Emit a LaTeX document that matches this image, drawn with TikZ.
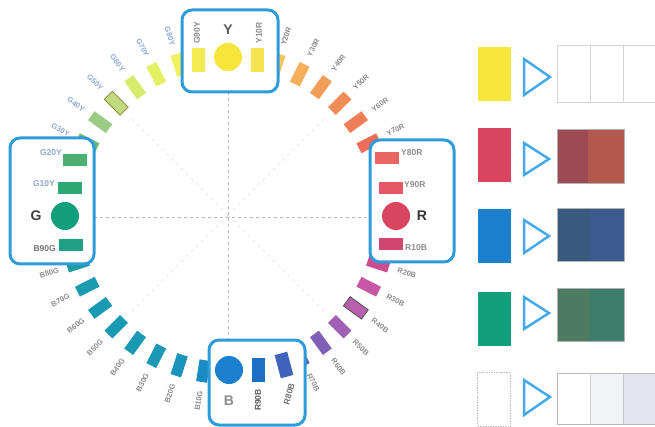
\documentclass[tikz,border=0pt]{standalone}
\usepackage{fontspec}
\setsansfont{Liberation Sans}
% ring colours
\definecolor{cY}{HTML}{F7E63A}
\definecolor{cY10R}{HTML}{F4E24E}
\definecolor{cY20R}{HTML}{F7C45C}
\definecolor{cY30R}{HTML}{F5AE5A}
\definecolor{cY40R}{HTML}{F39E58}
\definecolor{cY50R}{HTML}{F18E58}
\definecolor{cY60R}{HTML}{EF7E58}
\definecolor{cY70R}{HTML}{EC6E58}
\definecolor{cY80R}{HTML}{EA6660}
\definecolor{cY90R}{HTML}{E65866}
\definecolor{cR}{HTML}{D9445E}
\definecolor{cR10B}{HTML}{D04670}
\definecolor{cR20B}{HTML}{CC4C90}
\definecolor{cR30B}{HTML}{C658A6}
\definecolor{cR40B}{HTML}{B860B0}
\definecolor{cR50B}{HTML}{A060B6}
\definecolor{cR60B}{HTML}{8060B6}
\definecolor{cR70B}{HTML}{5C5CB4}
\definecolor{cR80B}{HTML}{4064BC}
\definecolor{cR90B}{HTML}{1E6EC4}
\definecolor{cB}{HTML}{1C80D0}
\definecolor{cB10G}{HTML}{1A8CC4}
\definecolor{cB20G}{HTML}{1A94BA}
\definecolor{cB30G}{HTML}{1A98B4}
\definecolor{cB40G}{HTML}{1A9AB2}
\definecolor{cB50G}{HTML}{1A9AB2}
\definecolor{cB60G}{HTML}{1A9AB0}
\definecolor{cB70G}{HTML}{1C9AAE}
\definecolor{cB80G}{HTML}{1E9CA4}
\definecolor{cB90G}{HTML}{22A086}
\definecolor{cG}{HTML}{12A07C}
\definecolor{cG10Y}{HTML}{2EA872}
\definecolor{cG20Y}{HTML}{4CB070}
\definecolor{cG30Y}{HTML}{6CBA6C}
\definecolor{cG40Y}{HTML}{9CCC84}
\definecolor{cG50Y}{HTML}{C0DA80}
\definecolor{cG60Y}{HTML}{D8EC6C}
\definecolor{cG70Y}{HTML}{E4F064}
\definecolor{cG80Y}{HTML}{EEF060}
\definecolor{cG90Y}{HTML}{F4EA52}
% other colours
\definecolor{boxblue}{HTML}{2E9BDA}
\definecolor{triblue}{HTML}{45AAEA}
\definecolor{labblue}{HTML}{8EA8D0}
\definecolor{labgray}{HTML}{8C8C8C}
\definecolor{cellgray}{HTML}{D4D4D4}
\definecolor{resRa}{HTML}{9E4A55}
\definecolor{resRb}{HTML}{B4584E}
\definecolor{resBa}{HTML}{3B5A80}
\definecolor{resBb}{HTML}{3C5A8E}
\definecolor{resGa}{HTML}{4D7A60}
\definecolor{resGb}{HTML}{3E7D6A}
\definecolor{resWb}{HTML}{F2F3F6}
\definecolor{resWc}{HTML}{E2E5EC}
\begin{document}
\begin{tikzpicture}[x=1pt,y=-1pt,
  ringsw/.style={rectangle, minimum width=22pt, minimum height=11pt, inner sep=0pt},
  ringlab/.style={font=\sffamily\bfseries\fontsize{7.5}{7.5}\selectfont, inner sep=0pt},
  boxlab/.style={font=\sffamily\bfseries\fontsize{8.5}{8.5}\selectfont, inner sep=0pt},
  big/.style={font=\sffamily\bfseries\fontsize{14}{14}\selectfont, inner sep=0pt},
  hsw/.style={rectangle, minimum width=24pt, minimum height=12pt, inner sep=0pt},
  vsw/.style={rectangle, minimum width=13pt, minimum height=24pt, inner sep=0pt},
  hue/.style={circle, minimum size=28pt, inner sep=0pt},
  colorbox/.style={draw=boxblue, line width=3pt, fill=white, rounded corners=10pt},
  spoke/.style={draw=gray!55, dashed, dash pattern=on 3pt off 3pt, line width=0.7pt},
  spokelight/.style={draw=gray!30, dashed, dash pattern=on 3pt off 4pt, line width=0.6pt},
  tri/.style={draw=triblue, line width=2.5pt},
  cellb/.style={draw=cellgray, line width=0.8pt},
  srcsw/.style={rectangle, minimum width=33pt, minimum height=54pt, inner sep=0pt}
]
\useasboundingbox (0,0) rectangle (655,427);

% centre and spokes
\coordinate (ctr) at (228,215);
\foreach \a in {45,135,225,315}
  \draw[spokelight] (ctr) -- ++(\a:140);
\coordinate (hl) at (94,217);
\coordinate (hr) at (370,217);
\coordinate (vt) at (228,92);
\coordinate (vb) at (228,340);
\draw[spoke] (hl) -- (hr);
\draw[spoke] (vt) -- (vb);

% ring of hues (those fully covered by the boxes are left out)
\foreach \a/\n/\lc in {72/Y20R/labgray,63/Y30R/labgray,54/Y40R/labgray,45/Y50R/labgray,36/Y60R/labgray,27/Y70R/labgray,
  -18/R20B/labgray,-27/R30B/labgray,-36/R40B/labgray,-45/R50B/labgray,-54/R60B/labgray,-63/R70B/labgray,
  -99/B10G/labgray,-108/B20G/labgray,-117/B30G/labgray,-126/B40G/labgray,-135/B50G/labgray,-144/B60G/labgray,-153/B70G/labgray,-162/B80G/labgray,
  153/G30Y/labblue,144/G40Y/labblue,135/G50Y/labblue,126/G60Y/labblue,117/G70Y/labblue,108/G80Y/labblue}{
  \pgfmathsetmacro\rr{cos(\a)<0 ? \a+180 : \a}
  \node[ringsw, fill=c\n, rotate=\a] (sw\n) at ({228+158*cos(\a)},{215-158*sin(\a)}) {};
  \node[ringlab, text=\lc, rotate=\rr] (lb\n) at ({228+188*cos(\a)},{215-188*sin(\a)}) {\n};
}
\draw[black!70, line width=0.8pt] (swR40B.north west) -- (swR40B.north east) -- (swR40B.south east) -- (swR40B.south west) -- cycle;
\draw[olive!60!gray, line width=0.8pt] (swG50Y.north west) -- (swG50Y.north east) -- (swG50Y.south east) -- (swG50Y.south west) -- cycle;

% Y box
\draw[colorbox] (182,10) rectangle (278,92);
\node[vsw, fill=cG90Y] (yG90Y) at (198,60) {};
\node[hue, fill=cY] (yY) at (228,57) {};
\node[vsw, fill=cY10R] (yY10R) at (257,60) {};
\node[boxlab, text=labgray, rotate=90] (tyG90Y) at (197,33) {G90Y};
\node[boxlab, text=labgray, rotate=90] (tyY10R) at (259,33) {Y10R};
\node[big, text=black!65] (tyY) at (228,30) {Y};

% R box
\draw[colorbox] (370,140) rectangle (454,262);
\node[hsw, fill=cY80R] (rY80R) at (387,158) {};
\node[hsw, fill=cY90R] (rY90R) at (391,188) {};
\node[hue, fill=cR] (rR) at (396,216) {};
\node[hsw, fill=cR10B] (rR10B) at (391,244) {};
\node[boxlab, text=labgray, anchor=west] (trY80R) at (401,153) {Y80R};
\node[boxlab, text=labgray, anchor=west] (trY90R) at (404,185) {Y90R};
\node[big, text=black!80] (trR) at (422,216) {R};
\node[boxlab, text=labgray, anchor=west] (trR10B) at (405,248) {R10B};

% G box
\draw[colorbox] (10,138) rectangle (94,264);
\node[hsw, fill=cG20Y] (gG20Y) at (75,160) {};
\node[hsw, fill=cG10Y] (gG10Y) at (70,188) {};
\node[hue, fill=cG] (gG) at (65,216) {};
\node[hsw, fill=cB90G] (gB90G) at (71,245) {};
\node[boxlab, text=labblue, anchor=east] (tgG20Y) at (62,153) {G20Y};
\node[boxlab, text=labblue, anchor=east] (tgG10Y) at (55,184) {G10Y};
\node[big, text=black!75] (tgG) at (36,216) {G};
\node[boxlab, text=black!55, anchor=east] (tgB90G) at (56,249) {B90G};

% B box
\draw[colorbox] (209,340) rectangle (305,425);
\node[hue, fill=cB] (bB) at (229,370) {};
\node[vsw, fill=cR90B] (bR90B) at (258,370) {};
\node[vsw, fill=cR80B, rotate=15] (bR80B) at (284,365) {};
\node[big, text=black!45] (tbB) at (229,401) {B};
\node[boxlab, text=black!65, rotate=90] (tbR90B) at (258,400) {R90B};
\node[boxlab, text=black!55, rotate=75] (tbR80B) at (289,394) {R80B};

% right column
\node[srcsw, fill=cY] (s1) at (494,74) {};
\node[srcsw, fill=cR] (s2) at (494,155) {};
\node[srcsw, fill=cB] (s3) at (494,236) {};
\node[srcsw, fill=cG] (s4) at (494,319) {};
\node[srcsw, fill=white, draw=gray!50, dashed, dash pattern=on 1.5pt off 1pt, line width=0.8pt] (s5) at (494,399) {};

\draw[tri] (524,59) -- (524,95) -- (550,77) -- cycle;
\draw[tri] (524,143) -- (524,175) -- (549,159) -- cycle;
\draw[tri] (524,220) -- (524,253) -- (549,236) -- cycle;
\draw[tri] (524,297) -- (524,329) -- (549,313) -- cycle;
\draw[tri] (524,380) -- (524,415) -- (550,397) -- cycle;

% results
\fill[white] (557,45) rectangle (655,102);
\draw[cellb] (557,45) rectangle (590,102);
\draw[cellb] (590,45) rectangle (623,102);
\draw[cellb] (623,45) rectangle (655,102);

\fill[resRa] (557,129) rectangle (588,183);
\fill[resRb] (588,129) rectangle (624,183);
\draw[gray!60, line width=0.8pt] (557,129) rectangle (624,183);

\fill[resBa] (557,208) rectangle (590,261);
\fill[resBb] (590,208) rectangle (624,261);
\draw[gray!60, line width=0.8pt] (557,208) rectangle (624,261);

\fill[resGa] (557,288) rectangle (590,341);
\fill[resGb] (590,288) rectangle (624,341);
\draw[gray!60, line width=0.8pt] (557,288) rectangle (624,341);

\fill[white] (557,373) rectangle (590,424);
\fill[resWb] (590,373) rectangle (623,424);
\fill[resWc] (623,373) rectangle (655,424);
\draw[gray!55, line width=0.8pt] (557,373) rectangle (655,424);
\draw[gray!35, line width=0.6pt] (590,373) -- (590,424);
\draw[gray!45, line width=0.6pt] (623,373) -- (623,424);
\end{tikzpicture}
\end{document}
